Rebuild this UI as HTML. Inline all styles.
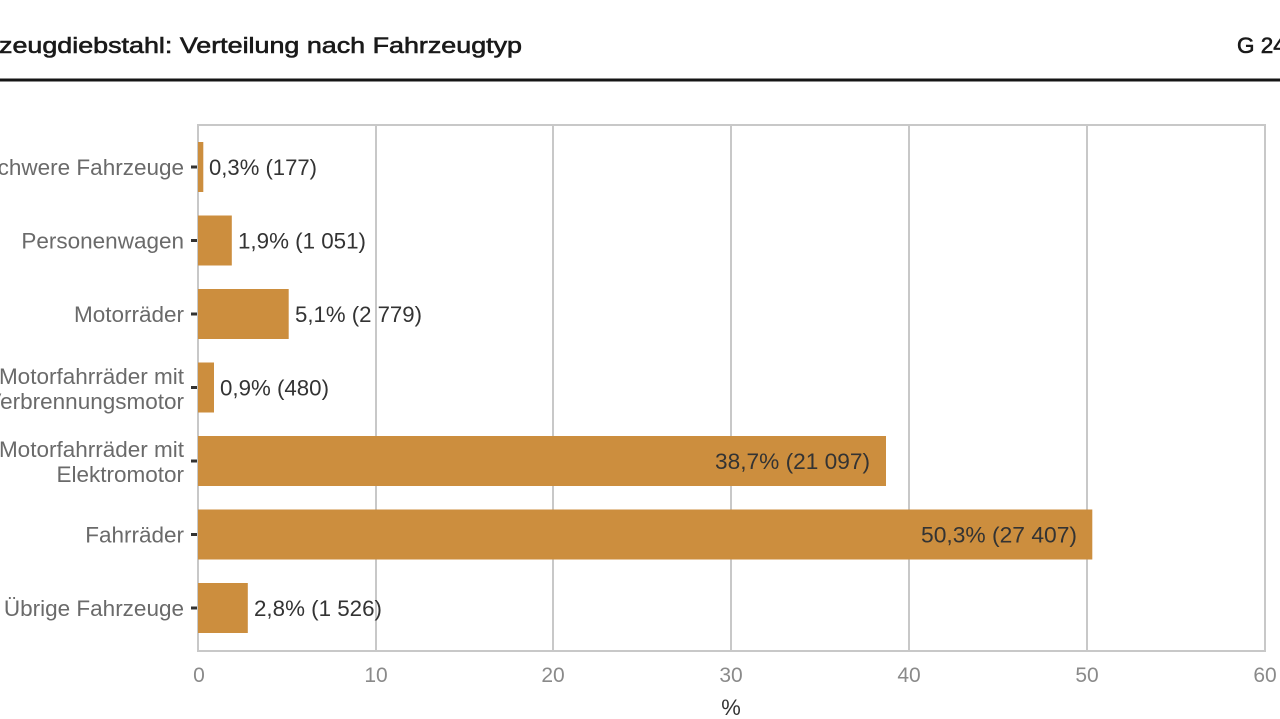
<!DOCTYPE html>
<html>
<head>
<meta charset="utf-8">
<style>
html,body{margin:0;padding:0;background:#fff;}
svg{display:block;}
text{font-family:"Liberation Sans",Arial,sans-serif;}
</style>
</head>
<body>
<svg width="1280" height="719" viewBox="0 0 1280 719" xmlns="http://www.w3.org/2000/svg">
<rect x="0" y="0" width="1280" height="719" fill="#fff"/>
<!-- Header -->
<text x="-1" y="53" font-size="22.5" fill="#1a1a1a" stroke="#1a1a1a" stroke-width="0.6" textLength="523" lengthAdjust="spacingAndGlyphs">zeugdiebstahl: Verteilung nach Fahrzeugtyp</text>
<text x="1237" y="53" font-size="22.5" fill="#1a1a1a" stroke="#1a1a1a" stroke-width="0.6">G 24</text>
<rect x="0" y="78.5" width="1280" height="3" fill="#151515"/>

<!-- Panel grid -->
<g stroke="#c8c8c8" stroke-width="2" fill="none">
<rect x="198" y="125" width="1067" height="526"/>
<line x1="376" y1="125" x2="376" y2="651"/>
<line x1="553" y1="125" x2="553" y2="651"/>
<line x1="731" y1="125" x2="731" y2="651"/>
<line x1="909" y1="125" x2="909" y2="651"/>
<line x1="1087" y1="125" x2="1087" y2="651"/>
</g>

<!-- Bars -->
<g fill="#cc8e3e">
<rect x="198" y="142" width="5.3" height="50"/>
<rect x="198" y="215.5" width="33.8" height="50"/>
<rect x="198" y="289" width="90.7" height="50"/>
<rect x="198" y="362.5" width="16" height="50"/>
<rect x="198" y="436" width="688" height="50"/>
<rect x="198" y="509.5" width="894.3" height="50"/>
<rect x="198" y="583" width="49.8" height="50"/>
</g>

<!-- Y ticks -->
<g fill="#333">
<rect x="191" y="165.5" width="6" height="3"/>
<rect x="191" y="239" width="6" height="3"/>
<rect x="191" y="312.5" width="6" height="3"/>
<rect x="191" y="386" width="6" height="3"/>
<rect x="191" y="459.5" width="6" height="3"/>
<rect x="191" y="533" width="6" height="3"/>
<rect x="191" y="606.5" width="6" height="3"/>
</g>

<!-- Y labels -->
<g font-size="22.5" fill="#6a6a6a" text-anchor="end">
<text x="184" y="175">Schwere Fahrzeuge</text>
<text x="184" y="248.5">Personenwagen</text>
<text x="184" y="322">Motorräder</text>
<text x="184" y="384">Motorfahrräder mit</text>
<text x="184" y="409">Verbrennungsmotor</text>
<text x="184" y="457">Motorfahrräder mit</text>
<text x="184" y="482">Elektromotor</text>
<text x="184" y="542.5">Fahrräder</text>
<text x="184" y="616">Übrige Fahrzeuge</text>
</g>

<!-- Value labels -->
<g font-size="22" fill="#333">
<text x="209" y="175" textLength="108" lengthAdjust="spacingAndGlyphs">0,3% (177)</text>
<text x="238" y="248.5" textLength="128" lengthAdjust="spacingAndGlyphs">1,9% (1 051)</text>
<text x="295" y="322" textLength="127" lengthAdjust="spacingAndGlyphs">5,1% (2 779)</text>
<text x="220" y="395.5" textLength="109" lengthAdjust="spacingAndGlyphs">0,9% (480)</text>
<text x="715" y="469" textLength="155" lengthAdjust="spacingAndGlyphs">38,7% (21 097)</text>
<text x="921" y="542.5" textLength="156" lengthAdjust="spacingAndGlyphs">50,3% (27 407)</text>
<text x="254" y="616" textLength="128" lengthAdjust="spacingAndGlyphs">2,8% (1 526)</text>
</g>

<!-- X tick labels -->
<g font-size="21" fill="#8a8a8a" text-anchor="middle">
<text x="199" y="682">0</text>
<text x="376" y="682">10</text>
<text x="553" y="682">20</text>
<text x="731" y="682">30</text>
<text x="909" y="682">40</text>
<text x="1087" y="682">50</text>
<text x="1265" y="682">60</text>
</g>
<text x="731" y="715" font-size="22" fill="#333" text-anchor="middle">%</text>
</svg>
</body>
</html>
